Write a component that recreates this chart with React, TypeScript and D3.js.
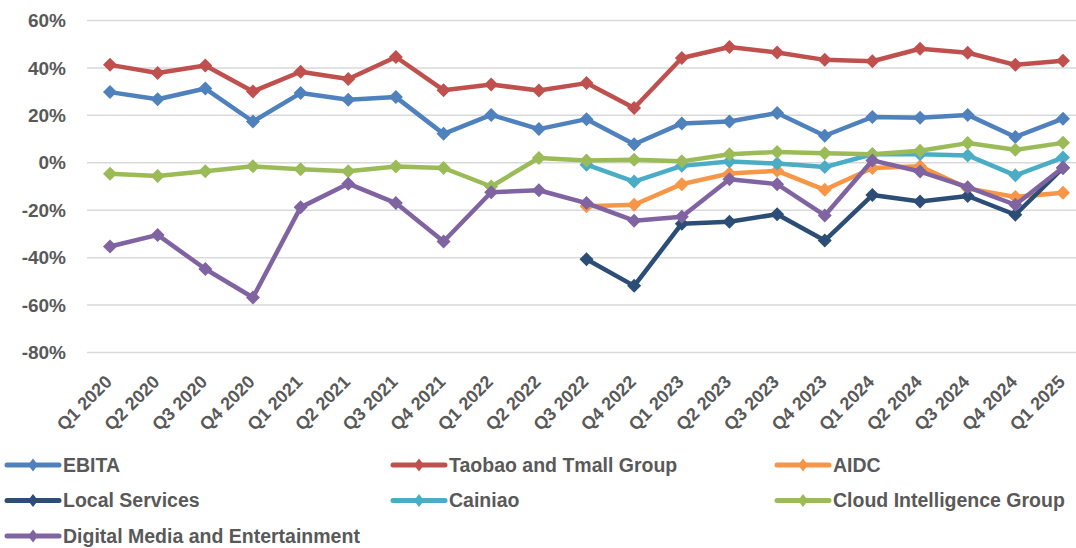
import React from "react";
import * as d3 from "d3";

const categories = [
  "Q1 2020", "Q2 2020", "Q3 2020", "Q4 2020",
  "Q1 2021", "Q2 2021", "Q3 2021", "Q4 2021",
  "Q1 2022", "Q2 2022", "Q3 2022", "Q4 2022",
  "Q1 2023", "Q2 2023", "Q3 2023", "Q4 2023",
  "Q1 2024", "Q2 2024", "Q3 2024", "Q4 2024",
  "Q1 2025",
];

const ebita = [29.8, 26.8, 31.3, 17.4, 29.4, 26.6, 27.7, 12.2, 20.2, 14.2, 18.4, 7.8, 16.6, 17.4, 21.0, 11.4, 19.3, 19.0, 20.2, 10.9, 18.6];
const taobao = [41.3, 37.9, 41.0, 30.1, 38.4, 35.3, 44.6, 30.6, 33.0, 30.5, 33.6, 23.1, 44.2, 48.8, 46.5, 43.4, 42.8, 48.1, 46.4, 41.3, 43.0];
const aidc = [null, null, null, null, null, null, null, null, null, null, -18.3, -17.7, -9.0, -4.5, -3.4, -11.4, -2.2, -1.5, -10.8, -14.4, -12.6];
const localServices = [null, null, null, null, null, null, null, null, null, null, -40.7, -51.9, -25.7, -24.9, -21.7, -32.8, -13.6, -16.3, -14.0, -21.9, -2.2];
const cainiao = [null, null, null, null, null, null, null, null, null, null, -0.8, -7.9, -1.3, 0.5, -0.3, -1.8, 3.6, 3.6, 3.1, -5.3, 2.2];
const cloud = [-4.6, -5.6, -3.6, -1.5, -2.7, -3.6, -1.6, -2.2, -10.0, 2.0, 1.0, 1.3, 0.6, 3.6, 4.6, 4.0, 3.6, 5.1, 8.3, 5.5, 8.4];
const digitalMedia = [-35.3, -30.4, -44.8, -56.8, -18.8, -8.8, -17.0, -33.2, -12.4, -11.6, -17.0, -24.4, -22.8, -6.9, -9.0, -22.2, 1.0, -3.7, -10.3, -17.7, -2.0];

const yTicks = [60, 40, 20, 0, -20, -40, -60, -80];

const seriesNames = [
  "EBITA", "Taobao and Tmall Group", "AIDC",
  "Local Services", "Cainiao", "Cloud Intelligence Group",
  "Digital Media and Entertainment",
];
const seriesValues = [ebita, taobao, aidc, localServices, cainiao, cloud, digitalMedia];
const seriesColors = ["#4F81BD", "#C0504D", "#F79646", "#2C4D75", "#4BACC6", "#9BBB59", "#8064A2"];

const W = 1076;
const H = 548;
const FONT = "'Liberation Sans', Arial, sans-serif";
const TEXT = "#595959";

export default function App() {
  const x = d3.scalePoint<string>().domain(categories).range([110, 1063]);
  const y = d3.scaleLinear().domain([-80, 60]).range([352.5, 20.5]);
  const line = d3
    .line<number | null>()
    .defined((d) => d !== null)
    .x((_, i) => x(categories[i]) as number)
    .y((d) => y(d as number));
  const diamond = (cx: number, cy: number, rx: number, ry: number) =>
    `M${cx},${cy - ry}L${cx + rx},${cy}L${cx},${cy + ry}L${cx - rx},${cy}Z`;

  const legendCols = [7, 393, 777];
  const legendRows = [465, 500.5, 536];

  return (
    <svg
      width={W}
      height={H}
      style={{ position: "absolute", left: 0, top: 0, display: "block", background: "#fff" }}
    >
      {yTicks.map((t) => (
        <g key={t}>
          <line x1={87} x2={W} y1={y(t)} y2={y(t)} stroke="#D9D9D9" strokeWidth={1.5} />
          <text
            x={66}
            y={y(t)}
            dy="0.35em"
            textAnchor="end"
            fontFamily={FONT}
            fontWeight="bold"
            fontSize={19}
            fill={TEXT}
          >
            {t}%
          </text>
        </g>
      ))}
      {categories.map((c) => (
        <text
          key={c}
          transform={`translate(${(x(c) as number) + 3},${383}) rotate(-45)`}
          textAnchor="end"
          fontFamily={FONT}
          fontWeight="bold"
          fontSize={18}
          fill={TEXT}
        >
          {c}
        </text>
      ))}
      {seriesValues.map((vals, si) => (
        <g key={si}>
          <path
            d={line(vals) || ""}
            fill="none"
            stroke={seriesColors[si]}
            strokeWidth={4.5}
            strokeLinejoin="round"
          />
          {vals.map((v, i) =>
            v === null ? null : (
              <path
                key={i}
                d={diamond(x(categories[i]) as number, y(v), 7, 7)}
                fill={seriesColors[si]}
              />
            )
          )}
        </g>
      ))}
      {seriesNames.map((n, i) => {
        const lx = legendCols[i % 3];
        const ly = legendRows[Math.floor(i / 3)];
        return (
          <g key={n}>
            <line x1={lx} x2={lx + 52} y1={ly} y2={ly} stroke={seriesColors[i]} strokeWidth={5} strokeLinecap="round" />
            <path d={diamond(lx + 26, ly, 5, 6.5)} fill={seriesColors[i]} />
            <text
              x={lx + 56}
              y={ly}
              dy="0.35em"
              fontFamily={FONT}
              fontWeight="bold"
              fontSize={19.5}
              fill={TEXT}
            >
              {n}
            </text>
          </g>
        );
      })}
    </svg>
  );
}
